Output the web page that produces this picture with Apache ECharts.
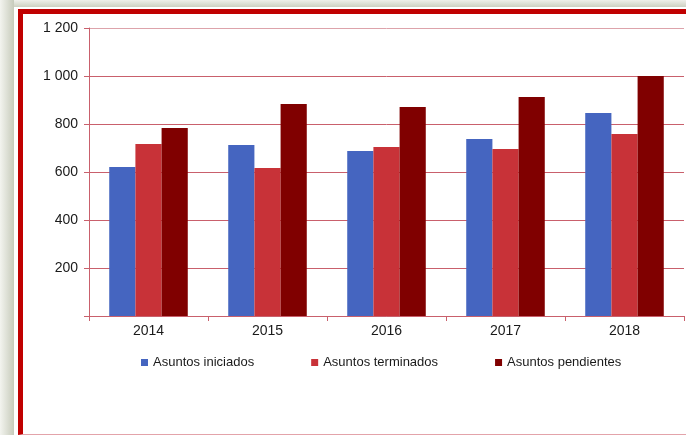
<!DOCTYPE html>
<html>
<head>
<meta charset="utf-8">
<script src="https://cdn.jsdelivr.net/npm/echarts@6/dist/echarts.min.js"></script>
<style>
    html, body {
        margin: 0;
        width: 686px;
        height: 435px;
        overflow: hidden;
    }
    body {
        background:
            linear-gradient(to right, #f3f4ef 0px, #c7cbbb 14px, rgba(0, 0, 0, 0) 14px),
            linear-gradient(to bottom, #eff0ea 0px, #cdd1c1 7px, rgba(0, 0, 0, 0) 7px),
            #ffffff;
    }
    .frame {
        position: absolute;
        left: 15px;
        top: 7px;
        width: 720px;
        height: 428px;
        background: #fff;
        border-left: 3px solid #fff;
        border-top: 2px solid #fff;
        box-sizing: border-box;
    }
    .inner {
        width: 100%;
        height: 100%;
        border-left: 5px solid #c00000;
        border-top: 5px solid #c00000;
        border-bottom: 1px solid #e3a3aa;
        box-sizing: border-box;
        margin-bottom: 1px;
    }
    #chart {
        position: absolute;
        left: 0;
        top: 0;
        width: 686px;
        height: 435px;
    }
</style>
</head>
<body>
<div class="frame"><div class="inner"></div></div>
<div id="chart"></div>
<script>
// 数据
const years = ['2014', '2015', '2016', '2017', '2018'];
const iniciados = [621, 712, 688, 738, 846];
const terminados = [717, 617, 704, 696, 758];
const pendientes = [783, 883, 871, 912, 1000];
const yTicks = [0, 200, 400, 600, 800, 1000, 1200];

const gridColor = '#c9606c';
const font = '"Liberation Sans", Arial, sans-serif';

const myChart = echarts.init(document.getElementById('chart'), null, { renderer: 'canvas' });

const option = {
    backgroundColor: 'transparent',
    animation: false,
    textStyle: { fontFamily: font },
    grid: {
        left: 89,
        top: 28,
        right: 2,
        bottom: 119,
    },
    legend: {
        left: 141,
        top: 356,
        padding: 0,
        itemWidth: 7,
        itemHeight: 7,
        itemGap: 57,
        icon: 'rect',
        textStyle: {
            color: '#1a1a1a',
            fontSize: 13,
            fontFamily: font,
        },
        data: ['Asuntos iniciados', 'Asuntos terminados', 'Asuntos pendientes'],
    },
    xAxis: {
        type: 'category',
        data: years,
        axisLine: { lineStyle: { color: gridColor, width: 1 } },
        axisTick: { show: true, length: 5, lineStyle: { color: gridColor } },
        axisLabel: {
            color: '#1a1a1a',
            fontSize: 14,
            margin: 8,
        },
    },
    yAxis: {
        type: 'value',
        min: yTicks[0],
        max: yTicks[yTicks.length - 1],
        interval: 200,
        axisLine: { show: true, lineStyle: { color: gridColor, width: 1 } },
        axisTick: { show: true, length: 5, lineStyle: { color: gridColor } },
        axisLabel: {
            color: '#1a1a1a',
            fontSize: 14,
            margin: 11,
            formatter: v => (v === 0 ? '' : String(v).replace(/\B(?=(\d{3})+(?!\d))/g, ' ')),
        },
        splitLine: {
            lineStyle: {
                // la línea superior es más pálida
                color: yTicks.map((t, i) => (i === yTicks.length - 1 ? '#dda3ab' : gridColor)),
                width: 1,
            },
        },
    },
    series: [
        {
            name: 'Asuntos iniciados',
            type: 'bar',
            data: iniciados,
            barGap: '0%',
            barCategoryGap: '34%',
            itemStyle: { color: '#4565c0' },
        },
        {
            name: 'Asuntos terminados',
            type: 'bar',
            data: terminados,
            itemStyle: { color: '#c83238' },
        },
        {
            name: 'Asuntos pendientes',
            type: 'bar',
            data: pendientes,
            itemStyle: { color: '#800000' },
        },
    ],
};

myChart.setOption(option);
</script>
</body>
</html>
